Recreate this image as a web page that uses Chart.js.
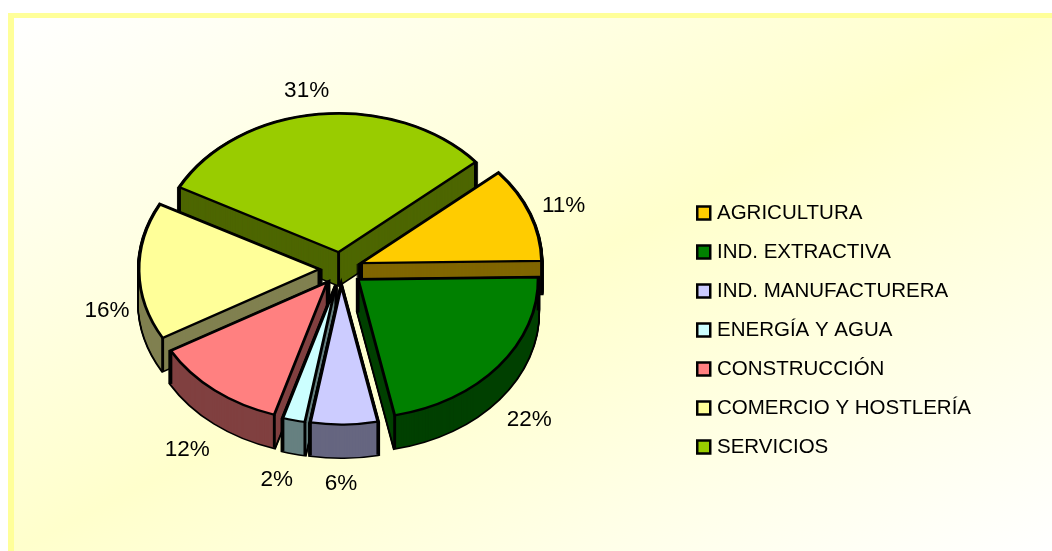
<!DOCTYPE html>
<html>
<head>
<meta charset="utf-8">
<style>
html,body{margin:0;padding:0;background:#fff;overflow:hidden}
#frame{position:absolute;left:8px;top:13px;width:1038px;height:533px;border-left:6px solid #FFFF99;border-top:5px solid #FFFF99;background:linear-gradient(to bottom right,#FFFFFF,#FFFFCC,#FFFFFF)}
#c{position:absolute;left:0;top:0}
</style>
<script src="https://cdn.jsdelivr.net/npm/chart.js@4/dist/chart.umd.min.js"></script>
</head>
<body>
<div id="frame"></div>
<canvas id="c" width="1052" height="551"></canvas>
<script>
const categories = ["AGRICULTURA","IND. EXTRACTIVA","IND. MANUFACTURERA","ENERGÍA Y AGUA","CONSTRUCCIÓN","COMERCIO Y HOSTLERÍA","SERVICIOS"];
const shares = [11,22,6,2,12,16,31];
const faceColors = ["#FFCC00","#008000","#CCCCFF","#CCFFFF","#FF8080","#FFFF99","#99CC00"];
const wallColors = ["#806600","#004000","#666680","#668080","#804040","#808050","#4D6600"];
const labelNudges = [[15,-3],[15,11],[-3.5,10.5],[-12.5,11.5],[-15,14],[-12,6.5],[-10,-8]];

const PIE_CX = 341, PIE_CY = 269, TILT = 0.77, DEPTH = 33, EXPLODE = 22, RADIUS = 180, LINE = 2.9;
const FONT = "Arial, 'Liberation Sans', sans-serif";

function variant(arc, ctx, fill, bw){
  arc.options = {backgroundColor:fill,borderColor:"#000",borderWidth:bw,borderAlign:"center",borderJoinStyle:"miter",
    offset:0,spacing:0,circular:true,borderRadius:0,borderDash:[],borderDashOffset:0};
  arc.draw(ctx);
}
const pie3d = {
  id:"pie3d",
  beforeDatasetsDraw(chart){
    const ctx = chart.ctx, arcs = chart.getDatasetMeta(0).data;
    const mid = a => (a.startAngle+a.endAngle)/2;
    const order = arcs.map((a,i)=>i).sort((p,q)=>Math.sin(mid(arcs[p]))-Math.sin(mid(arcs[q])));
    order.forEach(i=>{
      const arc = arcs[i], saved = arc.options, m = mid(arc);
      const ox = PIE_CX+Math.cos(m)*EXPLODE, oy = PIE_CY+Math.sin(m)*EXPLODE*TILT;
      const place = drop=>{
        ctx.save();
        ctx.translate(ox,oy+drop);ctx.scale(1,TILT);ctx.translate(-arc.x,-arc.y);
      };
      for(let d=DEPTH;d>=0;d--){ place(d); variant(arc,ctx,"#000",LINE*1.4); ctx.restore(); }
      for(let d=DEPTH;d>=0;d--){ place(d); variant(arc,ctx,wallColors[i],0); ctx.restore(); }
      const pts = [[ox,oy],
        [ox+Math.cos(arc.startAngle)*RADIUS, oy+Math.sin(arc.startAngle)*RADIUS*TILT],
        [ox+Math.cos(arc.endAngle)*RADIUS, oy+Math.sin(arc.endAngle)*RADIUS*TILT]];
      ctx.save();ctx.strokeStyle="#000";ctx.lineWidth=LINE;
      pts.forEach(p=>{ctx.beginPath();ctx.moveTo(p[0],p[1]);ctx.lineTo(p[0],p[1]+DEPTH);ctx.stroke();});
      ctx.restore();
      place(0); variant(arc,ctx,faceColors[i],LINE); ctx.restore();
      arc.options = saved;
    });
    ctx.save();
    ctx.font = "22.5px "+FONT; ctx.fillStyle="#000"; ctx.textAlign="center"; ctx.textBaseline="middle";
    arcs.forEach((arc,i)=>{
      const m = mid(arc), rl = RADIUS+EXPLODE+20;
      const x = PIE_CX+Math.cos(m)*rl+labelNudges[i][0];
      const y = PIE_CY+Math.sin(m)*rl*TILT+(Math.sin(m)>=0?DEPTH:0)+labelNudges[i][1];
      ctx.fillText(shares[i]+"%",x,y);
    });
    ctx.restore();
    return false;
  }
};

new Chart(document.getElementById("c"),{
  type:"pie",
  data:{labels:categories,datasets:[{data:shares,backgroundColor:faceColors,borderColor:"#000",borderWidth:2.5}]},
  plugins:[pie3d],
  options:{
    responsive:false,animation:false,events:[],
    rotation:49.5,radius:RADIUS,
    layout:{padding:{top:122,bottom:13,left:0,right:71}},
    plugins:{
      tooltip:{enabled:false},
      legend:{position:"right",align:"center",
        labels:{color:"#000",font:{size:20.5,family:FONT},usePointStyle:true,pointStyle:"rect",boxWidth:6,boxHeight:13,padding:18.5}}
    }
  }
});
</script>
</body>
</html>
